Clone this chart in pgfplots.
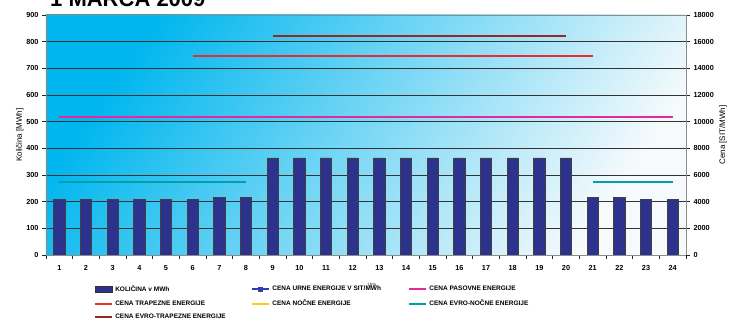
\documentclass[border=0pt]{standalone}
\usepackage{fontspec}
\setmainfont{Liberation Sans}
\usepackage{pgfplots}
\pgfplotsset{compat=1.18}

\definecolor{bgtop}{RGB}{0,182,238}
\definecolor{bgmid}{RGB}{120,205,240}
\definecolor{bgbot}{RGB}{246,250,252}
\definecolor{barblue}{RGB}{45,50,140}
\definecolor{urneblue}{RGB}{50,60,170}
\definecolor{pasovne}{RGB}{228,40,160}
\definecolor{trapezne}{RGB}{230,45,50}
\definecolor{nocne}{RGB}{255,200,30}
\definecolor{evronocne}{RGB}{0,160,170}
\definecolor{evrotrapezne}{RGB}{150,40,40}

\newcommand{\lgd}[1]{\makebox[134pt][l]{#1}}

\begin{document}
\begin{tikzpicture}
% hourly quantity (left axis)
\begin{axis}[
  name=ax,
  scale only axis, width=640pt, height=240pt,
  xmin=0.5, xmax=24.5, ymin=0, ymax=900,
  ytick={0,100,...,900},
  xtick={1,...,24},
  minor xtick={0.5,1.5,...,24.5},
  major x tick style={draw=none},
  minor x tick style={draw=black!85, line width=0.6pt},
  ytick pos=left, xtick pos=bottom,
  tick align=outside,
  major tick length=4pt, minor tick length=4pt,
  tick style={black!85, line width=0.6pt},
  ymajorgrids,
  major grid style={black!80, line width=0.6pt},
  axis line style={black!45, line width=0.7pt},
  axis background/.style={shade, top color=bgtop, middle color=bgmid, bottom color=bgbot, shading angle=55},
  ybar, bar width=11.3pt,
  /pgf/number format/assume math mode=true,
  tick label style={font=\bfseries\fontsize{7.3}{8}\selectfont},
  xticklabel style={yshift=-3pt},
  ylabel={Količina [MWh]},
  ylabel style={at={(axis description cs:-0.041,0.5)}, anchor=center, font=\fontsize{8}{9}\selectfont},
  xlabel={Ura},
  xlabel style={at={(axis description cs:0.509,-0.125)}, anchor=center, font=\fontsize{5}{5}\selectfont},
]
\addplot[fill=barblue, draw=black!75, line width=0.5pt] coordinates {
  (1,209) (2,209) (3,209) (4,209) (5,209) (6,209) (7,216) (8,216)
  (9,364) (10,364) (11,364) (12,364) (13,364) (14,364) (15,364) (16,364)
  (17,364) (18,364) (19,364) (20,364) (21,216) (22,216) (23,209) (24,209)
};
\end{axis}

% prices (right axis)
\begin{axis}[
  scale only axis, width=640pt, height=240pt,
  xmin=0.5, xmax=24.5, ymin=0, ymax=18000,
  axis x line=none, axis y line*=right,
  ytick={0,2000,...,18000},
  scaled y ticks=false,
  /pgf/number format/assume math mode=true,
  yticklabel style={/pgf/number format/set thousands separator={}, font=\bfseries\fontsize{7.3}{8}\selectfont},
  tick align=outside, major tick length=4pt,
  tick style={black!85, line width=0.6pt},
  axis line style={black!45, line width=0.7pt},
  ylabel={Cena [SIT/MWh]},
  ylabel style={at={(axis description cs:1.058,0.5)}, anchor=center, font=\fontsize{8}{9}\selectfont},
  legend style={
    at={(0.075,-0.118)}, anchor=north west,
    draw=none, fill=none, inner sep=0pt,
    legend columns=3, row sep=3pt,
    font=\bfseries\fontsize{6.5}{7}\selectfont,
  },
  legend cell align=left,
]
\addlegendimage{legend image code/.code={\draw[fill=barblue, draw=black!80, line width=0.5pt] (0pt,-2.6pt) rectangle (17pt,2.6pt);}}
\addlegendentry{\lgd{KOLIČINA v MWh}}
\addlegendimage{urneblue, line width=2pt, mark=square*, mark size=1.6pt, mark options={fill=urneblue}}
\addlegendentry{\lgd{CENA URNE ENERGIJE V SIT/MWh}}

\addplot[pasovne, line width=2pt] coordinates {(1,10350) (24,10350)};
\addlegendentry{\lgd{CENA PASOVNE ENERGIJE}}

\addplot[trapezne, line width=2pt] coordinates {(6,14925) (21,14925)};
\addlegendentry{\lgd{CENA TRAPEZNE ENERGIJE}}

\addlegendimage{nocne, line width=2pt}
\addlegendentry{\lgd{CENA NOČNE ENERGIJE}}

\addplot[evronocne, line width=2pt] coordinates {(1,5500) (8,5500)};
\addlegendentry{\lgd{CENA EVRO-NOČNE ENERGIJE}}
\addplot[evronocne, line width=2pt, forget plot] coordinates {(21,5500) (24,5500)};

\addplot[evrotrapezne, line width=2pt] coordinates {(9,16450) (20,16450)};
\addlegendentry{\lgd{CENA EVRO-TRAPEZNE ENERGIJE}}
\end{axis}

\node[anchor=base west, font=\bfseries\fontsize{22}{22}\selectfont, inner sep=0pt]
  at ([xshift=4pt, yshift=8.5pt]ax.north west) {1 MARCA 2009};

\pgfresetboundingbox
\path[use as bounding box] ([xshift=-46pt, yshift=-71pt]ax.south west) rectangle ([xshift=47pt, yshift=15pt]ax.north east);
\end{tikzpicture}
\end{document}
